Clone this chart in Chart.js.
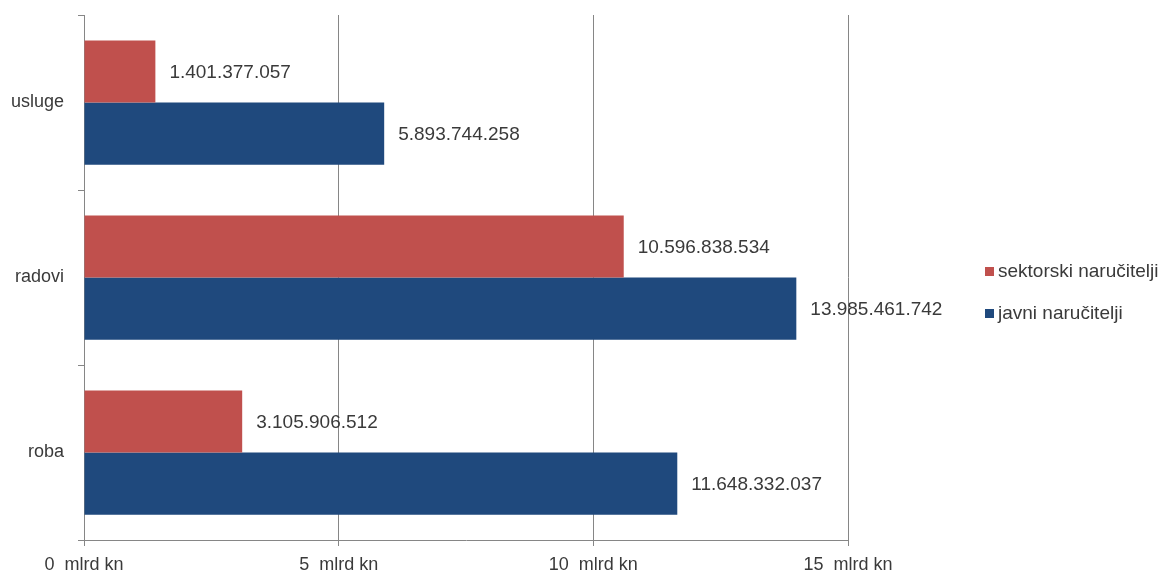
<!DOCTYPE html>
<html>
<head>
<meta charset="utf-8">
<script src="https://cdn.jsdelivr.net/npm/chart.js@4"></script>
<style>
  html, body { margin: 0; padding: 0; background: #fff; }
  #wrap { width: 1171px; height: 580px; position: relative; }
</style>
</head>
<body>
<div id="wrap"><canvas id="barchart"></canvas></div>
<script>
const categories = ['usluge', 'radovi', 'roba'];
const seriesNames = ['sektorski naručitelji', 'javni naručitelji'];
const sektorski = [1401377057, 10596838534, 3105906512];
const javni = [5893744258, 13985461742, 11648332037];
const seriesColors = ['#C0504D', '#1F497D'];
const tickValues = [0, 5, 10, 15];

const FONT = "'Liberation Sans', Arial, sans-serif";
const TEXT = '#3a3a3a';

function toMlrd(arr) {
  return arr.map(v => v / 1e9);
}

function fmt(n) {
  return String(n).replace(/\B(?=(\d{3})+(?!\d))/g, '.');
}

// value labels to the right of each bar
const valueLabels = {
  id: 'valueLabels',
  afterDatasetsDraw(chart) {
    const ctx = chart.ctx;
    ctx.save();
    ctx.font = '19px ' + FONT;
    ctx.fillStyle = TEXT;
    ctx.textAlign = 'left';
    ctx.textBaseline = 'middle';
    const raw = [sektorski, javni];
    chart.data.datasets.forEach((ds, i) => {
      const meta = chart.getDatasetMeta(i);
      meta.data.forEach((bar, j) => {
        ctx.fillText(fmt(raw[i][j]), bar.x + 14, bar.y + 1);
      });
    });
    ctx.restore();
  }
};

// legend on the right
const sideLegend = {
  id: 'sideLegend',
  afterDraw(chart) {
    const ctx = chart.ctx;
    ctx.save();
    ctx.font = '19px ' + FONT;
    ctx.textBaseline = 'middle';
    const x = chart.chartArea.right + 137;
    const y0 = chart.chartArea.top + 256;
    seriesNames.forEach((name, i) => {
      const y = y0 + i * 42;
      ctx.fillStyle = seriesColors[i];
      ctx.fillRect(x, y - 4, 9, 9);
      ctx.fillStyle = TEXT;
      ctx.fillText(name, x + 13, y + 1);
    });
    ctx.restore();
  }
};

const canvas = document.getElementById('barchart');

new Chart(canvas, {
  type: 'bar',
  data: {
    labels: categories,
    datasets: [
      {
        label: seriesNames[0],
        data: toMlrd(sektorski),
        backgroundColor: seriesColors[0],
        categoryPercentage: 0.71,
        barPercentage: 1.0,
      },
      {
        label: seriesNames[1],
        data: toMlrd(javni),
        backgroundColor: seriesColors[1],
        categoryPercentage: 0.71,
        barPercentage: 1.0,
      },
    ],
  },
  options: {
    indexAxis: 'y',
    responsive: true,
    maintainAspectRatio: false,
    animation: false,
    layout: {
      padding: { left: 0, top: 15, right: 323, bottom: 0 },
    },
    plugins: {
      legend: { display: false },
      tooltip: { enabled: false },
    },
    scales: {
      x: {
        min: 0,
        max: 15,
        afterBuildTicks: s => { s.ticks = tickValues.map(v => ({ value: v })); },
        afterFit: s => { s.height = 40; },
        grid: {
          color: '#868686',
          lineWidth: 1,
          tickLength: 6,
          drawOnChartArea: true,
        },
        border: { color: '#868686', width: 1 },
        ticks: {
          color: TEXT,
          font: { family: FONT, size: 18 },
          padding: 8,
          maxRotation: 0,
          callback: v => v + '  mlrd kn',
        },
      },
      y: {
        afterFit: s => {
          s.width = 84;
          s.paddingTop = 0;
          s.paddingBottom = 0;
        },
        grid: {
          offset: true,
          drawOnChartArea: false,
          color: '#868686',
          tickLength: 6,
        },
        border: { color: '#868686', width: 1 },
        ticks: {
          color: TEXT,
          font: { family: FONT, size: 18 },
          padding: 14,
        },
      },
    },
  },
  plugins: [valueLabels, sideLegend],
});
</script>
</body>
</html>
